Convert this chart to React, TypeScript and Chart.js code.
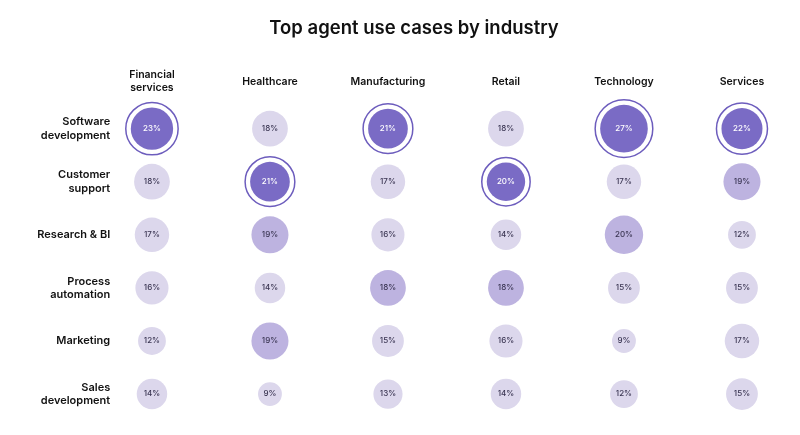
import React, { useEffect, useRef } from "react";
import { Chart, registerables } from "chart.js";

Chart.register(...registerables);

const industries: (string | string[])[] = [
  ["Financial", "services"],
  "Healthcare",
  "Manufacturing",
  "Retail",
  "Technology",
  "Services",
];

const useCases: (string | string[])[] = [
  ["Software", "development"],
  ["Customer", "support"],
  "Research & BI",
  ["Process", "automation"],
  "Marketing",
  ["Sales", "development"],
];

// share (%) of each use case, per industry, in useCases order
const financialServices = [23, 18, 17, 16, 12, 14];
const healthcare = [18, 21, 19, 14, 19, 9];
const manufacturing = [21, 17, 16, 18, 15, 13];
const retail = [18, 20, 14, 18, 16, 14];
const technology = [27, 17, 20, 15, 9, 12];
const services = [22, 19, 12, 15, 17, 15];

// emphasis: 2 = top use case, 1 = notable, 0 = other
const emphasisFinancial = [2, 0, 0, 0, 0, 0];
const emphasisHealthcare = [0, 2, 1, 0, 1, 0];
const emphasisManufacturing = [2, 0, 0, 1, 0, 0];
const emphasisRetail = [0, 2, 0, 1, 0, 0];
const emphasisTechnology = [2, 0, 1, 0, 0, 0];
const emphasisServices = [2, 1, 0, 0, 0, 0];

const columns = [financialServices, healthcare, manufacturing, retail, technology, services];
const emphasis = [
  emphasisFinancial,
  emphasisHealthcare,
  emphasisManufacturing,
  emphasisRetail,
  emphasisTechnology,
  emphasisServices,
];

const FONT = "Inter, 'Noto Sans', sans-serif";
const fillColors = ["#DCD7EC", "#BDB3E0", "#7A6BC5"];
const radiusOf = (v: number) => 6 + 0.66 * v;

type Pt = { x: number; y: number; v: number; tier: number };

export default function App() {
  const ref = useRef<HTMLCanvasElement | null>(null);

  useEffect(() => {
    if (!ref.current) return;
    const points: Pt[] = [];
    columns.forEach((col, i) =>
      col.forEach((v, j) => points.push({ x: i, y: j, v, tier: emphasis[i][j] }))
    );
    const tops = points.filter((p) => p.tier === 2);

    const labelPlugin = {
      id: "bubbleLabels",
      afterDatasetsDraw(chart: any) {
        const meta = chart.getDatasetMeta(1);
        const c = chart.ctx;
        c.save();
        c.font = `500 8px ${FONT}`;
        c.textAlign = "center";
        c.textBaseline = "middle";
        meta.data.forEach((el: any, k: number) => {
          const p = points[k];
          c.fillStyle = p.tier === 2 ? "#FFFFFF" : "#3A3552";
          c.fillText(`${p.v}%`, el.x, el.y);
        });
        c.restore();
      },
    };

    const chart = new Chart(ref.current, {
      type: "bubble",
      data: {
        datasets: [
          {
            data: tops as any,
            backgroundColor: "rgba(0,0,0,0)",
            borderColor: "#6D5DBD",
            borderWidth: 1.5,
            radius: (ctx: any) => radiusOf(ctx.raw.v) + 5,
            clip: false as any,
          },
          {
            data: points as any,
            backgroundColor: (ctx: any) => fillColors[ctx.raw.tier],
            borderWidth: 0,
            radius: (ctx: any) => radiusOf(ctx.raw.v),
            clip: false as any,
          },
        ],
      },
      options: {
        animation: false,
        responsive: true,
        maintainAspectRatio: false,
        events: [],
        layout: { autoPadding: false, padding: { top: 0, left: 28, right: 0, bottom: 0 } },
        plugins: {
          legend: { display: false },
          tooltip: { enabled: false },
          title: {
            display: true,
            text: "Top agent use cases by industry",
            color: "#111111",
            font: { family: FONT, size: 18.5, weight: 600 as any },
            padding: { top: 9.3, bottom: 11.6 },
          },
        },
        scales: {
          x: {
            type: "linear",
            position: "top",
            min: -0.32,
            max: 5.424,
            grid: { display: false, drawTicks: false },
            border: { display: false },
            afterBuildTicks: (s: any) => {
              s.ticks = industries.map((_, i) => ({ value: i }));
            },
            afterFit: (s: any) => {
              s.height = 51;
              s.paddingLeft = 0;
              s.paddingRight = 0;
            },
            ticks: {
              autoSkip: false,
              maxRotation: 0,
              padding: 14,
              crossAlign: "center",
              color: "#111111",
              font: { family: FONT, size: 10.5, weight: 600 as any, lineHeight: 1.25 },
              callback: (v: any) => industries[v] as any,
            },
          },
          y: {
            type: "linear",
            reverse: true,
            min: -0.5,
            max: 5.62,
            grid: { display: false, drawTicks: false },
            border: { display: false },
            afterBuildTicks: (s: any) => {
              s.ticks = useCases.map((_, i) => ({ value: i }));
            },
            afterFit: (s: any) => {
              s.width = 78.2;
              s.paddingTop = 0;
              s.paddingBottom = 0;
            },
            ticks: {
              autoSkip: false,
              padding: 4,
              color: "#111111",
              font: { family: FONT, size: 11, weight: 600 as any, lineHeight: 1.2 },
              callback: (v: any) => useCases[v] as any,
            },
          },
        },
      },
      plugins: [labelPlugin],
    });
    return () => chart.destroy();
  }, []);

  return (
    <div style={{ position: "relative", width: 784, height: 419 }}>
      <canvas ref={ref} />
    </div>
  );
}
